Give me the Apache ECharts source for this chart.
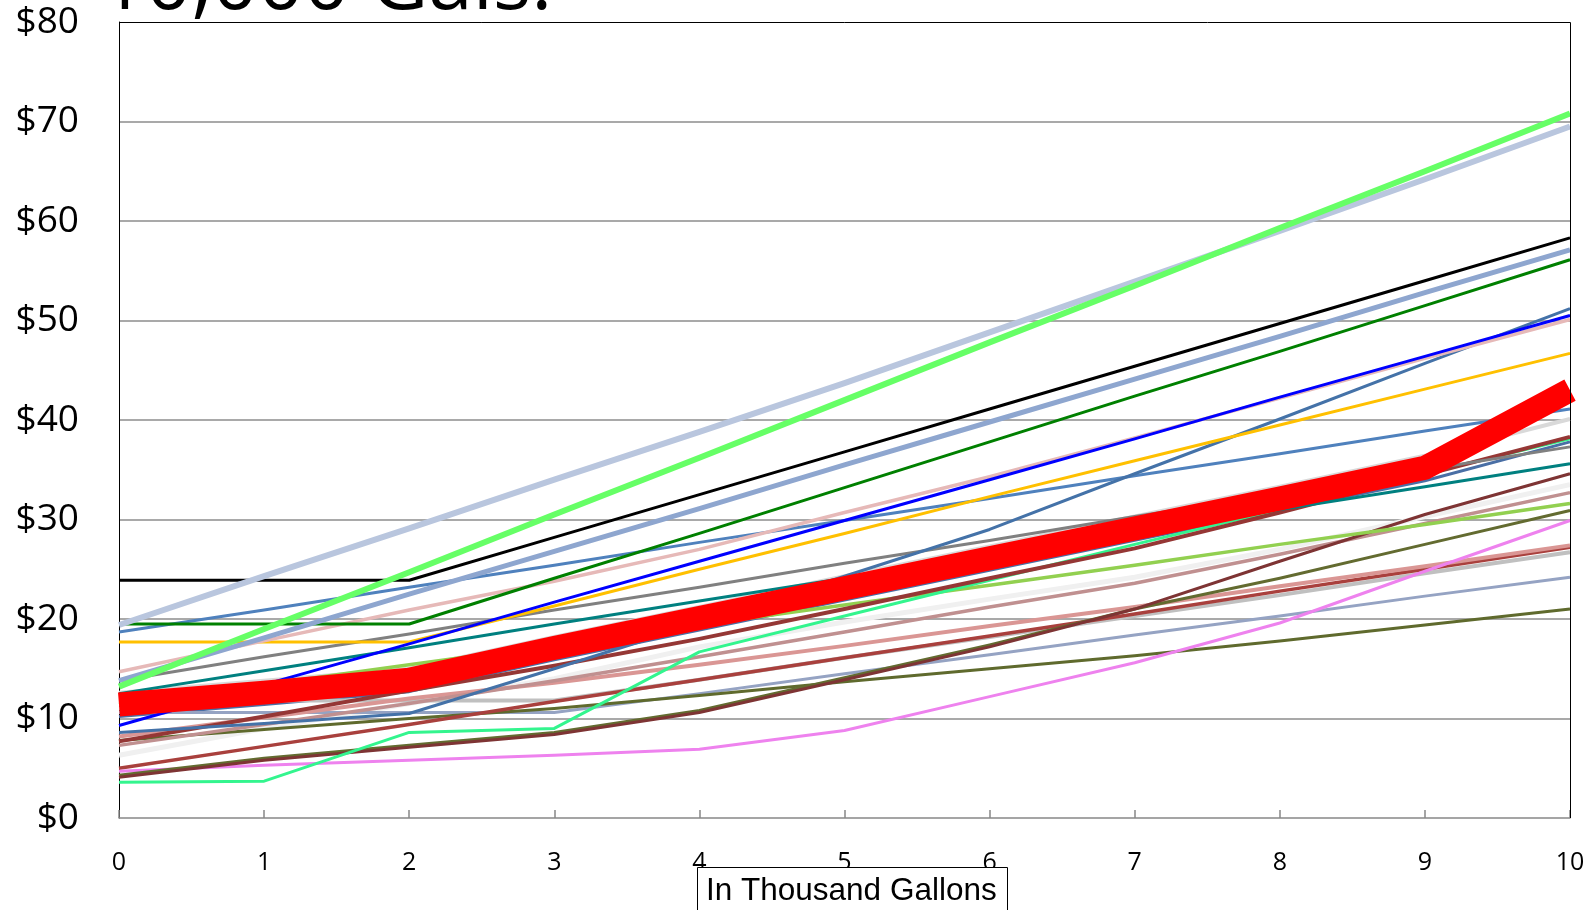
<!DOCTYPE html>
<html><head><meta charset="utf-8">
<script src="https://cdn.jsdelivr.net/npm/echarts/dist/echarts.min.js"></script>
<style>html,body{margin:0;padding:0;background:#fff}#c{width:1591px;height:910px}</style>
</head><body><div id="c"></div>
<script>
// ---- data (thousand gallons on x, monthly bill in $ on y) ----
const categories = ['0','1','2','3','4','5','6','7','8','9','10'];
const yMin = 0, yMax = 80, yStep = 10;
const titleText = '10,000 Gals.';
const xAxisTitle = 'In Thousand Gallons';

const whitish      = [6.3, 9.0, 11.5, 14.0, 17.2, 19.7, 22.0, 24.2, 27.0, 30.3, 33.5];
const lightGray2   = [12.6, 13.8, 15.0, 18.2, 21.2, 24.3, 27.3, 30.3, 33.3, 36.4, 40.1];
const slateHidden  = [10.2, 11.4, 12.7, 15.9, 18.9, 21.9, 24.9, 27.9, 30.9, 33.9, 37.8];
const lightGray    = [11.0, 11.8, 11.8, 11.8, 13.9, 16.1, 18.2, 20.3, 22.4, 24.6, 26.7];
const lightSlate   = [10.6, 10.6, 10.6, 10.6, 12.5, 14.5, 16.4, 18.4, 20.3, 22.3, 24.2];
const darkOlive    = [7.8, 8.9, 10.0, 11.0, 12.3, 13.7, 15.0, 16.3, 17.8, 19.4, 21.0];
const brick        = [5.0, 7.2, 9.4, 11.7, 13.9, 16.1, 18.3, 20.5, 22.8, 25.0, 27.2];
const lightRosy    = [8.2, 10.1, 12.0, 13.6, 15.4, 17.3, 19.3, 21.2, 23.3, 25.3, 27.4];
const rosyBrown    = [7.3, 9.4, 11.5, 13.8, 16.2, 18.7, 21.2, 23.6, 26.5, 29.6, 32.7];
const violet       = [4.7, 5.3, 5.8, 6.3, 6.9, 8.8, 12.2, 15.6, 19.6, 24.8, 29.9];
const olive        = [4.3, 6.0, 7.3, 8.6, 10.8, 14.1, 17.4, 21.0, 24.1, 27.5, 30.9];
const darkBrown    = [4.1, 5.8, 7.1, 8.4, 10.6, 13.9, 17.2, 21.0, 25.8, 30.5, 34.6];
const yellowGreen  = [11.4, 13.4, 15.4, 17.4, 19.4, 21.4, 23.4, 25.4, 27.5, 29.5, 31.6];
const springGreen  = [3.6, 3.7, 8.6, 9.0, 16.7, 20.3, 23.9, 27.5, 31.0, 34.6, 38.1];
const darkRed      = [7.7, 10.2, 12.8, 15.3, 18.0, 21.0, 24.1, 27.1, 30.7, 34.5, 38.3];
const teal         = [12.5, 14.8, 17.1, 19.5, 21.8, 24.1, 26.4, 28.7, 31.0, 33.3, 35.6];
const gray         = [13.8, 16.2, 18.5, 20.9, 23.2, 25.6, 27.9, 30.3, 32.6, 35.0, 37.3];
const steelA       = [18.7, 20.9, 23.2, 25.4, 27.7, 29.9, 32.1, 34.4, 36.6, 38.9, 41.1];
const steelB       = [8.6, 9.5, 10.5, 15.0, 19.6, 24.3, 29.0, 34.6, 40.1, 45.7, 51.2];
const orange       = [17.7, 17.7, 17.7, 21.3, 25.0, 28.6, 32.3, 35.9, 39.5, 43.1, 46.7];
const pink         = [14.7, 17.8, 20.9, 23.8, 27.0, 30.7, 34.3, 38.2, 42.2, 46.2, 50.1];
const blue         = [9.3, 13.4, 17.5, 21.7, 25.8, 29.9, 34.0, 38.1, 42.3, 46.4, 50.5];
const darkGreen    = [19.5, 19.5, 19.5, 24.1, 28.6, 33.2, 37.8, 42.4, 46.9, 51.5, 56.1];
const mediumBlue   = [13.8, 18.1, 22.5, 26.8, 31.1, 35.5, 39.8, 44.1, 48.4, 52.8, 57.1];
const black        = [23.9, 23.9, 23.9, 28.2, 32.5, 36.8, 41.1, 45.4, 49.7, 54.0, 58.3];
const lightSteel   = [19.4, 24.3, 29.1, 34.0, 38.8, 43.7, 48.8, 53.9, 59.0, 64.2, 69.5];
const brightGreen  = [13.2, 19.0, 24.7, 30.5, 36.2, 42.0, 47.8, 53.5, 59.3, 65.0, 70.8];
const redMain      = [11.4, 12.6, 13.9, 17.1, 20.1, 23.1, 26.1, 29.1, 32.1, 35.2, 43.0];

// ---- styles (draw order bottom -> top) ----
const lines = [
  [whitish, '#F0F0F0', 5],
  [lightGray2, '#D9D9D9', 4],
  [slateHidden, '#4A6FA5', 3],
  [lightGray, '#C0C0C0', 4],
  [lightSlate, '#95A3C3', 3],
  [darkOlive, '#5F6A2D', 3],
  [brick, '#A9403D', 3.5],
  [lightRosy, '#DA9694', 4],
  [rosyBrown, '#C09090', 3.5],
  [violet, '#EE82EE', 3],
  [olive, '#636B30', 3],
  [darkBrown, '#7E3434', 3],
  [yellowGreen, '#92D050', 3.5],
  [springGreen, '#33F58E', 3],
  [darkRed, '#953735', 4],
  [teal, '#008080', 3],
  [gray, '#808080', 3],
  [steelA, '#4F81BD', 3],
  [steelB, '#4472A8', 3],
  [orange, '#FFC000', 3],
  [pink, '#E6B9B8', 3.5],
  [blue, '#0000FF', 3],
  [darkGreen, '#008000', 3],
  [mediumBlue, '#8EA6CF', 5],
  [black, '#000000', 3],
  [lightSteel, '#B9C6DE', 6],
  [brightGreen, '#66FF66', 6],
  [redMain, '#FF0000', 24]
];

const G = {left: 119, right: 21, top: 22, bottom: 92};
const W = 1591, H = 910;
const plotRight = W - G.right;

const chart = echarts.init(document.getElementById('c'), null, {renderer: 'canvas'});
chart.setOption({
  animation: false,
  backgroundColor: '#ffffff',
  grid: {left: G.left, right: G.right, top: G.top, bottom: G.bottom, containLabel: false},
  xAxis: {
    type: 'category', data: categories, boundaryGap: false,
    axisLine: {show: true, lineStyle: {color: '#888888', width: 1.5}},
    axisTick: {show: true, inside: true, length: 8, lineStyle: {color: '#888888', width: 1.5}},
    axisLabel: {color: '#000', fontFamily: 'Open Sans', fontSize: 25, margin: 32},
    splitLine: {show: false}
  },
  yAxis: {
    type: 'value', min: yMin, max: yMax, interval: yStep,
    axisLine: {show: true, lineStyle: {color: '#000', width: 1}},
    axisTick: {show: false},
    axisLabel: {color: '#000', fontFamily: 'Open Sans', fontSize: 37, margin: 40,
      formatter: v => '$' + v},
    splitLine: {show: true, showMinLine: false, showMaxLine: false,
      lineStyle: {color: '#8C8C8C', width: 1.5}}
  },
  series: lines.map((l, i) => ({
    type: 'line', data: l[0], symbol: 'none', smooth: false, z: 2,
    lineStyle: {color: l[1], width: l[2], join: 'round', cap: 'butt'},
    emphasis: {disabled: true}, silent: true
  })),
  graphic: [
    {type: 'polyline', z: 50, shape: {points: [[G.left, G.top + 0.5], [plotRight + 0.5, G.top + 0.5], [plotRight + 0.5, H - G.bottom]]},
      style: {stroke: '#000', lineWidth: 1, fill: null}},
    {type: 'text', z: 50, x: 100, y: -54,
      style: {text: titleText, font: '80px "Open Sans"', fill: '#000'}},
    {type: 'rect', z: 60, shape: {x: 697.5, y: 867.5, width: 310, height: 60},
      style: {fill: '#fff', stroke: '#000', lineWidth: 1}},
    {type: 'text', z: 61, x: 706, y: 875,
      style: {text: xAxisTitle, font: '31.5px "Liberation Sans"', fill: '#000'}}
  ]
});
</script></body></html>
